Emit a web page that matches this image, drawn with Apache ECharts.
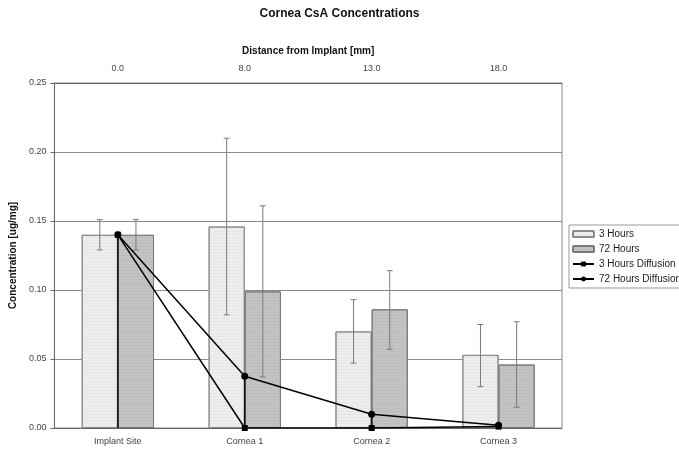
<!DOCTYPE html>
<html><head><meta charset="utf-8">
<script src="https://cdn.jsdelivr.net/npm/echarts@6/dist/echarts.min.js"></script>
<style>html,body{margin:0;padding:0;background:#fff}#c{width:679px;height:453px}</style>
</head><body><div id="c"></div>
<script>
const categories = ['Implant Site', 'Cornea 1', 'Cornea 2', 'Cornea 3'];
const distances = ['0.0', '8.0', '13.0', '18.0'];
const hours3 = [0.140, 0.146, 0.070, 0.053];
const hours72 = [0.140, 0.099, 0.086, 0.046];
const hours3Low = [0.129, 0.082, 0.047, 0.030];
const hours3High = [0.151, 0.210, 0.093, 0.075];
const hours72Low = [0.129, 0.037, 0.057, 0.015];
const hours72High = [0.151, 0.161, 0.114, 0.077];
const diff3 = [0.140, 0.000, 0.000, 0.001];
const diff72 = [0.140, 0.0375, 0.0099, 0.002];

const FONT = 'Liberation Sans, Arial, sans-serif';
const GAP = 0.43;

function errData(lo, hi) { return categories.map((c, i) => [i, lo[i], hi[i]]); }
function errRender(side) {
  return function (params, api) {
    const i = api.value(0);
    const band = api.size([1, 0])[0];
    const bw = band * (1 - GAP) / 2;
    const top = api.coord([i, api.value(2)]);
    const bot = api.coord([i, api.value(1)]);
    const x = top[0] + side * bw / 2;
    const cap = 3;
    const st = { stroke: '#7a7a7a', lineWidth: 1 };
    return { type: 'group', children: [
      { type: 'line', shape: { x1: x, y1: top[1], x2: x, y2: bot[1] }, style: st },
      { type: 'line', shape: { x1: x - cap, y1: top[1], x2: x + cap, y2: top[1] }, style: st },
      { type: 'line', shape: { x1: x - cap, y1: bot[1], x2: x + cap, y2: bot[1] }, style: st }
    ]};
  };
}
function dropRender(params, api) {
  const p = api.coord([api.value(0), api.value(1)]);
  const b = api.coord([api.value(0), 0]);
  return { type: 'line', shape: { x1: p[0], y1: p[1], x2: b[0], y2: b[1] },
    style: { stroke: '#111', lineWidth: 1.5 } };
}

const chart = echarts.init(document.getElementById('c'));
chart.setOption({
  animation: false,
  textStyle: { fontFamily: FONT },
  title: { text: 'Cornea CsA Concentrations', left: 'center', top: 3,
    textStyle: { fontFamily: FONT, fontSize: 12, fontWeight: 'bold', color: '#111' } },
  legend: {
    orient: 'vertical', left: 569, top: 225, itemWidth: 21, itemHeight: 6, itemGap: 5,
    padding: [4, 8, 4, 3], borderColor: '#999', borderWidth: 1,
    textStyle: { fontFamily: FONT, fontSize: 10, color: '#222' },
    data: ['3 Hours', '72 Hours', '3 Hours Diffusion', '72 Hours Diffusion']
  },
  grid: { left: 53, right: 117, top: 83, bottom: 25, show: true, borderColor: '#888', borderWidth: 1 },
  xAxis: [
    { type: 'category', data: categories, position: 'bottom',
      axisLine: { lineStyle: { color: '#666' } },
      axisTick: { length: 4, lineStyle: { color: '#666' } },
      axisLabel: { fontSize: 9, color: '#444', margin: 9 } },
    { type: 'category', data: distances, position: 'top',
      name: 'Distance from Implant [mm]', nameLocation: 'middle', nameGap: 27,
      nameTextStyle: { fontSize: 10, fontWeight: 'bold', color: '#111' },
      axisLine: { lineStyle: { color: '#666' } },
      axisTick: { length: 4, lineStyle: { color: '#666' } },
      axisLabel: { fontSize: 9, color: '#444', margin: 10 } }
  ],
  yAxis: { type: 'value', min: 0, max: 0.25, interval: 0.05,
    name: 'Concentration [ug/mg]', nameLocation: 'middle', nameGap: 31,
    nameTextStyle: { fontSize: 10, fontWeight: 'bold', color: '#111' },
    axisLine: { show: true, lineStyle: { color: '#666' } },
    axisTick: { show: true, length: 4, lineStyle: { color: '#666' } },
    axisLabel: { fontSize: 9, color: '#444', margin: 8, formatter: v => v.toFixed(2) },
    splitLine: { lineStyle: { color: '#8a8a8a', width: 1 } } },
  series: [
    { name: '3 Hours', type: 'bar', data: hours3, barGap: '0%', barCategoryGap: (GAP * 100) + '%',
      itemStyle: { color: '#eeeeee', borderColor: '#8a8a8a', borderWidth: 1,
        decal: { symbol: 'rect', symbolSize: 0.5, color: 'rgba(150,150,150,0.35)', dashArrayX: [1, 0], dashArrayY: [1, 2], rotation: 0 } } },
    { name: '72 Hours', type: 'bar', data: hours72,
      itemStyle: { color: '#c3c3c3', borderColor: '#7a7a7a', borderWidth: 1,
        decal: { symbol: 'rect', symbolSize: 0.5, color: 'rgba(120,120,120,0.3)', dashArrayX: [1, 0], dashArrayY: [1, 2], rotation: 0 } } },
    { type: 'custom', renderItem: errRender(-1), data: errData(hours3Low, hours3High), z: 5, silent: true },
    { type: 'custom', renderItem: errRender(1), data: errData(hours72Low, hours72High), z: 5, silent: true },
    { type: 'custom', renderItem: dropRender, data: diff72.map((v, i) => [i, v]), z: 5, silent: true },
    { name: '3 Hours Diffusion', type: 'line', data: diff3, symbol: 'rect', symbolSize: 6, z: 6,
      lineStyle: { color: '#000', width: 1.5 }, itemStyle: { color: '#000' } },
    { name: '72 Hours Diffusion', type: 'line', data: diff72, symbol: 'circle', symbolSize: 7, z: 7,
      lineStyle: { color: '#000', width: 1.5 }, itemStyle: { color: '#000' } }
  ]
});
</script></body></html>
